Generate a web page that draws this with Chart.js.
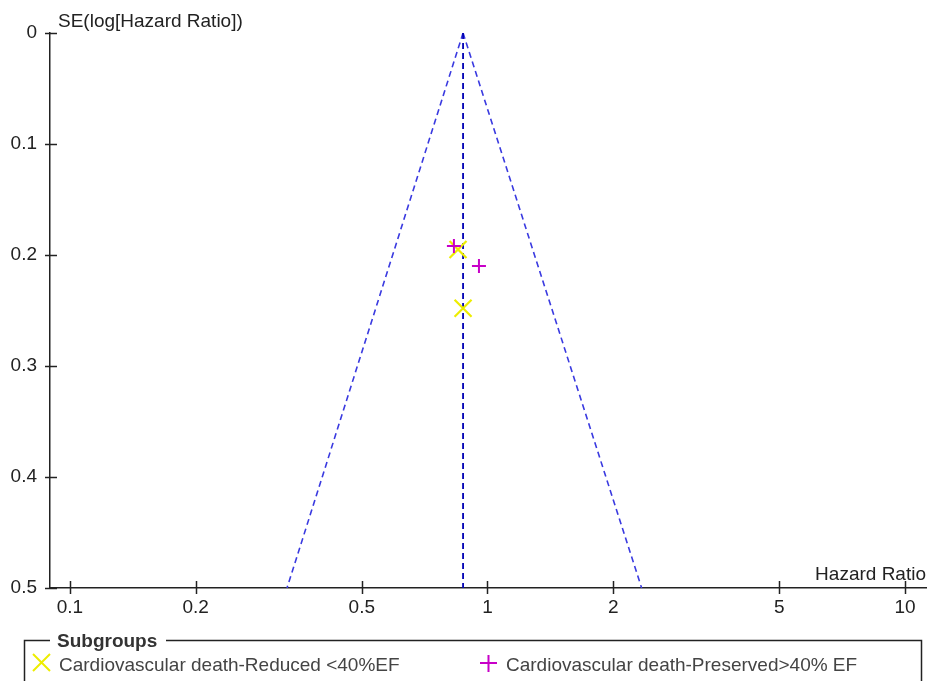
<!DOCTYPE html>
<html>
<head>
<meta charset="utf-8">
<script src="https://cdn.jsdelivr.net/npm/chart.js@4.4.1/dist/chart.umd.min.js"></script>
<style>
  html, body { margin: 0; padding: 0; background: #fff; }
  #wrap { width: 927px; height: 681px; }
</style>
</head>
<body>
<div id="wrap"><canvas id="funnel" width="927" height="681"></canvas></div>
<script>
// values
const xTicks = [0.1, 0.2, 0.5, 1, 2, 5, 10];
const yTicks = [0, 0.1, 0.2, 0.3, 0.4, 0.5];

const reducedLabel = "Cardiovascular death-Reduced <40%EF";
const reducedHR = [0.850, 0.874];
const reducedSE = [0.195, 0.248];

const preservedLabel = "Cardiovascular death-Preserved>40% EF";
const preservedHR = [0.831, 0.954];
const preservedSE = [0.192, 0.210];

// funnel (pooled estimate and 95% limits at SE = 0.5)
const pooledHR = 0.874;
const funnelSE = [0, 0.5];
const funnelLeftHR = [0.874, 0.331];
const funnelRightHR = [0.874, 2.34];

const FONT = "'Liberation Sans', Arial, sans-serif";
const yellow = "#eded00";
const magenta = "#c800c8";

const toPts = (xs, ys) => xs.map((x, i) => ({ x: x, y: ys[i] }));

// tick marks crossing the axes, axis titles and the legend box
const extras = {
  id: "extras",
  afterDraw(chart) {
    const ctx = chart.ctx;
    const xs = chart.scales.x, ys = chart.scales.y;
    const area = chart.chartArea;
    ctx.save();
    ctx.strokeStyle = "#222";
    ctx.lineWidth = 1.5;
    xTicks.forEach(v => {
      const px = Math.round(xs.getPixelForValue(v)) + 0.5;
      ctx.beginPath();
      ctx.moveTo(px, area.bottom - 7);
      ctx.lineTo(px, area.bottom + 6);
      ctx.stroke();
    });
    yTicks.forEach(v => {
      const py = Math.round(ys.getPixelForValue(v)) + 0.5;
      ctx.beginPath();
      ctx.moveTo(area.left - 5, py);
      ctx.lineTo(area.left + 7, py);
      ctx.stroke();
    });

    ctx.fillStyle = "#222";
    ctx.font = "19px " + FONT;
    ctx.textBaseline = "alphabetic";
    ctx.textAlign = "left";
    ctx.fillText("SE(log[Hazard Ratio])", 58, 27);
    ctx.textAlign = "right";
    ctx.fillText("Hazard Ratio", 926, 580);

    // legend frame
    ctx.strokeStyle = "#222";
    ctx.lineWidth = 1.5;
    ctx.beginPath();
    ctx.moveTo(24.5, 690);
    ctx.lineTo(24.5, 640.5);
    ctx.lineTo(50, 640.5);
    ctx.moveTo(166, 640.5);
    ctx.lineTo(921.5, 640.5);
    ctx.lineTo(921.5, 690);
    ctx.stroke();

    ctx.textAlign = "left";
    ctx.fillStyle = "#333";
    ctx.font = "bold 19px " + FONT;
    ctx.fillText("Subgroups", 57, 647);

    ctx.font = "19px " + FONT;
    ctx.fillStyle = "#444";
    ctx.fillText(reducedLabel, 59, 671);
    ctx.fillText(preservedLabel, 506, 671);

    ctx.lineWidth = 2;
    ctx.strokeStyle = yellow;
    ctx.beginPath();
    ctx.moveTo(33, 654); ctx.lineTo(50, 671);
    ctx.moveTo(50, 654); ctx.lineTo(33, 671);
    ctx.stroke();

    ctx.strokeStyle = magenta;
    ctx.beginPath();
    ctx.moveTo(480, 663); ctx.lineTo(497, 663);
    ctx.moveTo(488.5, 655); ctx.lineTo(488.5, 672);
    ctx.stroke();
    ctx.restore();
  }
};

new Chart(document.getElementById("funnel"), {
  type: "scatter",
  data: {
    datasets: [
      {
        label: preservedLabel,
        data: toPts(preservedHR, preservedSE),
        pointStyle: "cross",
        pointRadius: 7,
        pointBorderWidth: 2,
        borderColor: magenta,
        backgroundColor: magenta,
        order: 0
      },
      {
        label: reducedLabel,
        data: toPts(reducedHR, reducedSE),
        pointStyle: "crossRot",
        pointRadius: 12,
        pointBorderWidth: 2.2,
        borderColor: yellow,
        backgroundColor: yellow,
        order: 1
      },
      {
        type: "line",
        data: toPts([pooledHR, pooledHR], funnelSE),
        borderColor: "#0000b4",
        borderWidth: 1.8,
        borderDash: [6, 4],
        pointRadius: 0,
        order: 2
      },
      {
        type: "line",
        data: toPts(funnelLeftHR, funnelSE),
        borderColor: "#3a3ae0",
        borderWidth: 1.6,
        borderDash: [6, 4],
        pointRadius: 0,
        order: 3
      },
      {
        type: "line",
        data: toPts(funnelRightHR, funnelSE),
        borderColor: "#3a3ae0",
        borderWidth: 1.6,
        borderDash: [6, 4],
        pointRadius: 0,
        order: 3
      }
    ]
  },
  options: {
    responsive: false,
    animation: false,
    layout: { autoPadding: false, padding: { top: 33, right: 0, left: 0, bottom: 0 } },
    plugins: { legend: { display: false }, tooltip: { enabled: false } },
    scales: {
      x: {
        type: "logarithmic",
        min: 0.08957,
        max: 11.29,
        afterBuildTicks: s => { s.ticks = xTicks.map(v => ({ value: v })); },
        afterFit: s => { s.height = 93; s.paddingLeft = 0; s.paddingRight = 0; },
        grid: { display: false, drawTicks: false },
        border: { display: true, color: "#222", width: 1.5 },
        ticks: {
          color: "#222",
          padding: 8,
          font: { family: FONT, size: 19 },
          maxRotation: 0,
          autoSkip: false,
          callback: v => String(v)
        }
      },
      y: {
        reverse: true,
        min: 0,
        max: 0.5,
        afterBuildTicks: s => { s.ticks = yTicks.map(v => ({ value: v })); },
        afterFit: s => { s.width = 50; },
        grid: { display: false, drawTicks: false },
        border: { display: true, color: "#222", width: 1.5 },
        ticks: {
          color: "#222",
          padding: 13,
          font: { family: FONT, size: 19 },
          callback: v => String(v)
        }
      }
    }
  },
  plugins: [extras]
});
</script>
</body>
</html>
